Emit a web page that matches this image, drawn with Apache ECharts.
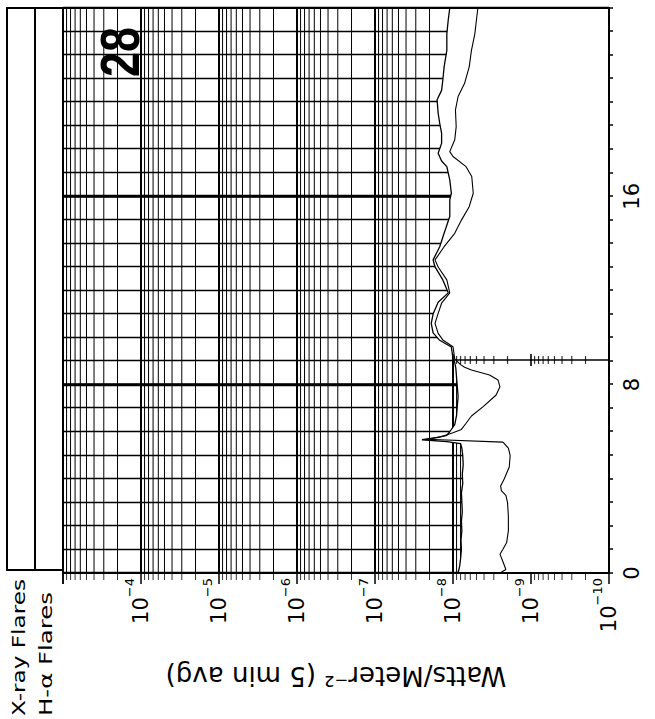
<!DOCTYPE html>
<html><head><meta charset="utf-8">
<script src="https://cdn.jsdelivr.net/npm/echarts@6/dist/echarts.min.js"></script>
<style>
html,body{margin:0;padding:0;background:#fff;overflow:hidden;width:655px;height:719px;}
#chart{position:absolute;left:0;top:0;width:719px;height:655px;transform-origin:0 0;transform:translate(0,719px) rotate(-90deg);}
</style></head><body><div id="chart"></div>
<script>
// ---- data ----
const dayLabel = '28';
const flareRowLabels = ['X-ray Flares', 'H-α Flares'];
const axisTitle = 'Watts/Meter⁻² (5 min avg)';
const timeTickLabels = [0, 8, 16];
const heavyHourLines = [8, 16];
const fluxLabelExponents = [-10, -9, -8, -7, -6, -5, -4];

// long channel (upper curve)
const longTime = [0.0,0.3,0.6,1.0,1.4,1.8,2.2,2.6,3.0,3.4,3.8,4.2,4.6,5.0,5.3,5.5,5.58,5.66,5.75,5.85,6.0,6.3,6.7,7.1,7.5,7.9,8.3,8.7,8.95,9.1,9.6,9.9,10.2,10.6,11.0,11.5,11.9,12.45,13.0,13.3,13.86,14.43,15.14,15.85,16.13,16.7,17.26,17.5,17.83,18.25,18.68,19.1,19.53,20.1,20.5,20.94,21.5,22.2,22.9,23.5,24.0];
const longFlux = [8.6e-9,8.2e-9,8.0e-9,7.8e-9,7.9e-9,7.7e-9,7.8e-9,7.6e-9,7.7e-9,7.8e-9,7.5e-9,7.6e-9,7.4e-9,7.5e-9,7.7e-9,8.0e-9,1.2e-8,2.5e-8,1.6e-8,1.2e-8,1.1e-8,9.5e-9,9.0e-9,8.8e-9,8.6e-9,8.8e-9,9.0e-9,9.2e-9,9.5e-9,1.0e-8,1.05e-8,1.5e-8,1.8e-8,1.9e-8,1.8e-8,1.55e-8,1.15e-8,1.35e-8,1.7e-8,1.8e-8,1.48e-8,1.3e-8,1.1e-8,1.1e-8,1.05e-8,1.1e-8,1.2e-8,1.4e-8,1.55e-8,1.4e-8,1.4e-8,1.48e-8,1.55e-8,1.6e-8,1.4e-8,1.35e-8,1.3e-8,1.2e-8,1.2e-8,1.15e-8,1.1e-8];

// short channel (lower curve)
const shortTime = [0.0,0.15,0.5,0.8,1.0,1.3,1.8,2.4,3.0,3.3,3.5,3.7,4.0,4.5,5.0,5.3,5.5,5.56,5.68,5.8,5.96,6.1,6.36,6.67,7.07,7.56,7.91,8.2,8.41,8.62,8.74,8.85,9.1,9.61,9.9,10.18,10.6,11.03,11.46,11.9,12.45,13.0,13.3,13.86,14.43,14.99,15.56,16.13,16.84,17.26,17.69,17.9,18.4,18.96,19.67,20.24,20.8,21.5,22.2,22.9,23.5,24.0];
const shortFlux = [2.5e-9,2.1e-9,2.3e-9,2.5e-9,2.3e-9,2.05e-9,1.95e-9,1.95e-9,2.0e-9,2.1e-9,2.4e-9,2.45e-9,2.2e-9,1.9e-9,1.85e-9,1.95e-9,2.2e-9,2.3e-9,2.2e-8,1.4e-8,1.0e-8,7.8e-9,6.8e-9,5.8e-9,4.1e-9,2.8e-9,2.5e-9,2.65e-9,3.4e-9,5.8e-9,7.1e-9,8.0e-9,9.5e-9,1.0e-8,1.35e-8,1.55e-8,1.7e-8,1.55e-8,1.4e-8,1.1e-8,1.2e-8,1.55e-8,1.7e-8,1.3e-8,9.5e-9,7.8e-9,6.2e-9,5.5e-9,5.75e-9,6.8e-9,1.0e-8,1.1e-8,9.5e-9,9.1e-9,9.3e-9,8.6e-9,7.1e-9,6.2e-9,5.8e-9,5.25e-9,5.0e-9,4.8e-9];

// data-gap marker
const gapTime = 9.05;
const gapTopFlux = 1e-8;

// ---- helpers ----
const FONT = 'DejaVu Sans';
const minorFlux = [];
for (let d = -10; d <= -4; d++) for (let k = 2; k <= 9; k++) minorFlux.push(Number((k * Math.pow(10, d)).toPrecision(3)));
const decadeFlux = [1e-10, 1e-9, 1e-8];
const gapTickFlux = minorFlux.filter(v => v < gapTopFlux).concat(decadeFlux);
function isDecade(v){ const e = Math.log10(v); return Math.abs(e - Math.round(e)) < 1e-6; }
function textWidth(text, font){ const c = document.createElement('canvas').getContext('2d'); c.font = font; return c.measureText(text).width; }
const s28 = 50 / textWidth(dayLabel, 'bold 56px "Liberation Sans"');
const sX = 137 / textWidth(flareRowLabels[0], '17px "DejaVu Sans"');
const sH = 124 / textWidth(flareRowLabels[1], '17px "DejaVu Sans"');

const chart = echarts.init(document.getElementById('chart'), null, {renderer: 'svg'});
const option = {
  animation: false,
  backgroundColor: '#fff',
  grid: [
    {left: 146, right: 8, top: 63, bottom: 46, show: true, borderColor: '#000', borderWidth: 2, backgroundColor: 'transparent', z: 20},
    {left: 149, right: 8, top: 7, height: 28, show: true, borderColor: '#000', borderWidth: 2, backgroundColor: '#fff'},
    {left: 149, right: 8, top: 35, height: 28, show: true, borderColor: '#000', borderWidth: 2, backgroundColor: '#fff'}
  ],
  xAxis: [
    {gridIndex: 0, type: 'value', min: 0, max: 24, interval: 1, position: 'bottom',
     axisLine: {show: false}, axisTick: {show: false}, axisLabel: {show: false},
     splitLine: {show: true, lineStyle: {color: '#000', width: 1.3}}},
    {gridIndex: 0, type: 'value', min: 0, max: 24, interval: 1, position: 'bottom', z: 21,
     axisLine: {show: true, onZero: false, lineStyle: {color: '#000', width: 2}},
     axisTick: {show: true, inside: false, length: 4, lineStyle: {color: '#000', width: 1.5}},
     axisLabel: {show: true, interval: 0, margin: 12, color: '#000', fontSize: 21, fontFamily: FONT,
       formatter: v => timeTickLabels.indexOf(v) >= 0 ? String(v) : ''},
     splitLine: {show: false}},
    {gridIndex: 1, type: 'value', min: 0, max: 24, show: false},
    {gridIndex: 2, type: 'value', min: 0, max: 24, show: false}
  ],
  yAxis: [
    {gridIndex: 0, type: 'log', logBase: 10, min: 1e-10, max: 1e-3, splitNumber: 7,
     axisLine: {show: false}, axisTick: {show: false}, axisLabel: {show: false},
     splitLine: {show: true, lineStyle: {color: '#000', width: 2}}},
    {gridIndex: 0, type: 'log', logBase: 10, min: 1e-10, max: 1e-3, splitNumber: 7, position: 'left', z: 21,
     axisLine: {show: true, onZero: false, lineStyle: {color: '#000', width: 2}},
     axisTick: {show: true, inside: false, length: 11, lineStyle: {color: '#000', width: 1.5}},
     axisLabel: {margin: 5, color: '#000',
       formatter: v => { const e = Math.round(Math.log10(v)); return fluxLabelExponents.indexOf(e) >= 0 ? '{b|10}{s|−' + Math.abs(e) + '}' : ''; },
       rich: {b: {fontSize: 21, lineHeight: 36, fontFamily: FONT, color: '#000'},
              s: {fontSize: 13, lineHeight: 13, verticalAlign: 'top', fontFamily: FONT, color: '#000'}}},
     splitLine: {show: false},
     name: axisTitle, nameLocation: 'middle', nameGap: 90, nameRotate: 90,
     nameTextStyle: {fontSize: 26, fontFamily: FONT, color: '#000'}},
    {gridIndex: 1, type: 'value', min: 0, max: 1, show: false},
    {gridIndex: 2, type: 'value', min: 0, max: 1, show: false}
  ],
  series: [
    {name: 'minorGrid', type: 'custom', xAxisIndex: 0, yAxisIndex: 0, z: 1, silent: true,
     data: minorFlux.map(v => [0, v]),
     renderItem: (params, api) => {
       const cs = params.coordSys; const p = api.coord([0, api.value(1)]);
       return {type: 'line', shape: {x1: cs.x, y1: p[1], x2: cs.x + cs.width, y2: p[1]},
               style: {stroke: '#000', lineWidth: 1}};
     }},
    {name: 'heavyHours', type: 'custom', xAxisIndex: 0, yAxisIndex: 0, z: 1, silent: true,
     data: heavyHourLines.map(h => [h, 1e-3]),
     renderItem: (params, api) => {
       const cs = params.coordSys; const p = api.coord([api.value(0), api.value(1)]);
       return {type: 'line', shape: {x1: p[0], y1: cs.y, x2: p[0], y2: cs.y + cs.height},
               style: {stroke: '#000', lineWidth: 3}};
     }},
    {name: 'long', type: 'line', xAxisIndex: 0, yAxisIndex: 0, z: 3, symbol: 'none', silent: true,
     data: longTime.map((t, i) => [t, longFlux[i]]),
     lineStyle: {color: '#000', width: 1.3},
     areaStyle: {color: '#fff', opacity: 1, origin: 'start'}},
    {name: 'short', type: 'line', xAxisIndex: 0, yAxisIndex: 0, z: 4, symbol: 'none', silent: true,
     data: shortTime.map((t, i) => [t, shortFlux[i]]),
     lineStyle: {color: '#000', width: 1.1}},
    {name: 'gap', type: 'line', xAxisIndex: 0, yAxisIndex: 0, z: 4, symbol: 'none', silent: true,
     data: [[gapTime, 1e-10], [gapTime, gapTopFlux]],
     lineStyle: {color: '#000', width: 1.6}},
    {name: 'gapTicks', type: 'scatter', xAxisIndex: 0, yAxisIndex: 0, z: 5, silent: true, clip: false,
     data: gapTickFlux.map(v => [gapTime, v]), symbol: 'rect',
     symbolSize: val => isDecade(val[1]) ? [12, 2] : [8, 1.2],
     itemStyle: {color: '#000'}},
    {name: 'axisMinorTicks', type: 'scatter', xAxisIndex: 0, yAxisIndex: 0, z: 22, silent: true, clip: false,
     data: minorFlux.map(v => [0, v]), symbol: 'rect', symbolSize: [7, 1], symbolOffset: [-3.5, 0],
     itemStyle: {color: '#000'}}
  ],
  graphic: [
    {type: 'text', x: 667, y: 120, scaleX: s28, z: 30, silent: true,
     style: {text: dayLabel, fontSize: 56, fontWeight: 'bold', fontFamily: 'Liberation Sans', fill: '#000',
             textAlign: 'center', textVerticalAlign: 'middle', align: 'center', verticalAlign: 'middle'}},
    {type: 'text', x: 3, y: 19, scaleX: sX, z: 30, silent: true,
     style: {text: flareRowLabels[0], fontSize: 17, fontFamily: FONT, fill: '#000',
             textAlign: 'left', textVerticalAlign: 'middle', align: 'left', verticalAlign: 'middle'}},
    {type: 'text', x: 3, y: 46, scaleX: sH, z: 30, silent: true,
     style: {text: flareRowLabels[1], fontSize: 17, fontFamily: FONT, fill: '#000',
             textAlign: 'left', textVerticalAlign: 'middle', align: 'left', verticalAlign: 'middle'}}
  ]
};
chart.setOption(option);
</script>
</body></html>
